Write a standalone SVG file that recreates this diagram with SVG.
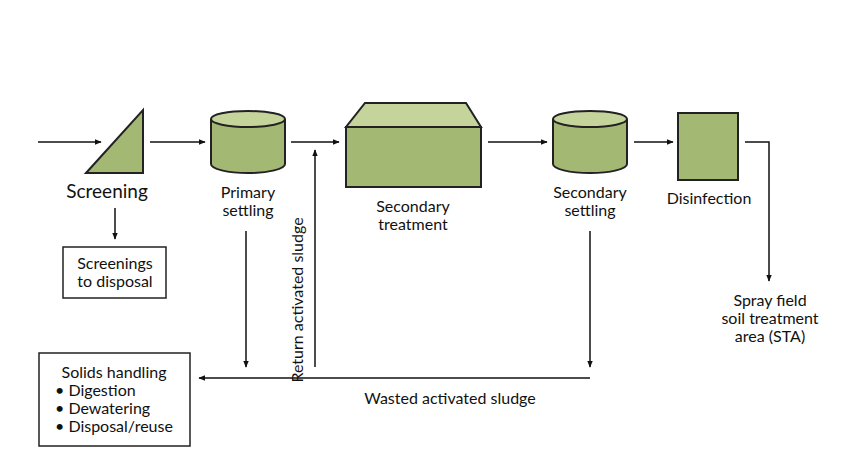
<svg xmlns="http://www.w3.org/2000/svg" width="857" height="476" viewBox="0 0 857 476">
<style>
.s{fill:#a3b872;stroke:#222;stroke-width:2}
.t{fill:#c4d49b;stroke:#222;stroke-width:2}
.b{fill:#fff;stroke:#222;stroke-width:1.5}
.l{fill:none;stroke:#111;stroke-width:1.5}
text{font-family:Lato,"Liberation Sans",sans-serif;font-size:16px;fill:#111;text-anchor:middle}
.bl{text-anchor:start}
</style>
<defs><marker id="a" viewBox="0 0 10 10" refX="9" refY="5" markerWidth="7" markerHeight="7" orient="auto" markerUnits="userSpaceOnUse"><path d="M0,1 L10,5 L0,9z" fill="#111"/></marker></defs>
<rect width="857" height="476" fill="#fff"/>
<g id="screening"><polygon class="s" points="86,173 143,110 143,173"/><text x="107" y="198" style="font-size:19px">Screening</text></g>
<g id="primary"><path class="s" d="M211,119 V164 A37,9 0 0 0 285,164 V119"/><ellipse class="t" cx="248" cy="119" rx="37" ry="8"/><text x="248" y="198">Primary</text><text x="248" y="216">settling</text></g>
<g id="secondary-treatment"><polygon class="t" points="365,103 466,103 481,127 346,127"/><rect class="s" x="346" y="127" width="135" height="60"/><text x="413" y="212">Secondary</text><text x="413" y="230">treatment</text></g>
<g id="secondary-settling"><path class="s" d="M553,119 V164 A37,9 0 0 0 627,164 V119"/><ellipse class="t" cx="590" cy="119" rx="37" ry="8"/><text x="590" y="198">Secondary</text><text x="590" y="216">settling</text></g>
<g id="disinfection"><rect class="s" x="678" y="113" width="60" height="67"/><text x="709" y="204">Disinfection</text></g>
<g id="screenings-disposal"><rect class="b" x="63" y="247" width="103" height="51"/><text x="115" y="269">Screenings</text><text x="115" y="287">to disposal</text></g>
<g id="solids"><rect class="b" x="39" y="353" width="151" height="93"/><text x="114" y="378">Solids handling</text><text class="bl" x="55" y="396">• Digestion</text><text class="bl" x="55" y="414">• Dewatering</text><text class="bl" x="55" y="432">• Disposal/reuse</text></g>
<g id="sta"><text x="770" y="306">Spray field</text><text x="770" y="324">soil treatment</text><text x="770" y="342">area (STA)</text></g>
<g id="connectors">
<line class="l" x1="38" y1="142" x2="101" y2="142" marker-end="url(#a)"/>
<line class="l" x1="150" y1="142" x2="205" y2="142" marker-end="url(#a)"/>
<line class="l" x1="291" y1="142" x2="339" y2="142" marker-end="url(#a)"/>
<line class="l" x1="488" y1="142" x2="547" y2="142" marker-end="url(#a)"/>
<line class="l" x1="634" y1="142" x2="673" y2="142" marker-end="url(#a)"/>
<polyline class="l" points="745,142 769,142 769,281" marker-end="url(#a)"/>
<line class="l" x1="115" y1="208" x2="115" y2="239" marker-end="url(#a)"/>
<line class="l" x1="246" y1="231" x2="246" y2="367" marker-end="url(#a)"/>
<line class="l" x1="315" y1="367" x2="315" y2="150" marker-end="url(#a)"/>
<line class="l" x1="590" y1="231" x2="590" y2="367" marker-end="url(#a)"/>
<line class="l" x1="590" y1="378" x2="199" y2="378" marker-end="url(#a)"/>
<text x="450" y="404">Wasted activated sludge</text>
<text transform="translate(303,300) rotate(-90)">Return activated sludge</text>
</g>
</svg>
